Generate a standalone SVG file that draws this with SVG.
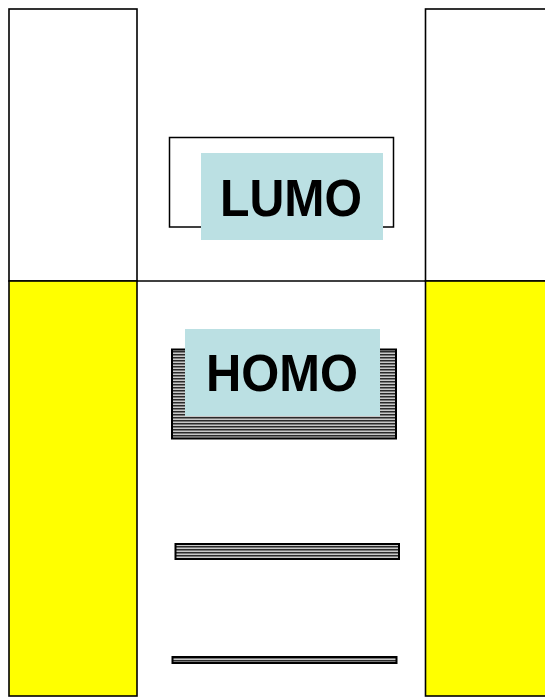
<svg xmlns="http://www.w3.org/2000/svg" width="545" height="697" viewBox="0 0 545 697">
<defs>
<pattern id="hatch" patternUnits="userSpaceOnUse" width="4" height="3">
<rect width="4" height="3" fill="#c8c8c8"/>
<rect width="4" height="1.5" fill="#2a2a2a"/>
</pattern>
</defs>
<style>
.col{fill:#ffffff;stroke:#000;stroke-width:1.6}
.yel{fill:#ffff00;stroke:#000;stroke-width:1.6}
.lbl{fill:#bbe0e3}
.orb{fill:url(#hatch);stroke:#000;stroke-width:2}
.txt{font-family:"Comic Sans MS","Liberation Sans",sans-serif;font-weight:bold;font-size:52px;fill:#000}
</style>
<g id="left-column">
<rect class="col" x="9" y="9" width="128" height="272"/>
<rect class="yel" x="9" y="281" width="128" height="415"/>
</g>
<g id="right-column">
<rect class="col" x="425.5" y="9" width="125" height="272"/>
<rect class="yel" x="425.5" y="281" width="125" height="415"/>
</g>
<g id="connectors">
<line x1="137" y1="281" x2="425.5" y2="281" stroke="#000" stroke-width="1.6"/>
</g>
<g id="lumo">
<rect x="169.5" y="137.5" width="224" height="89.5" fill="#fff" stroke="#000" stroke-width="1.5"/>
<rect class="lbl" x="201" y="153" width="182" height="87"/>
<text class="txt" x="220" y="216" textLength="142" lengthAdjust="spacingAndGlyphs">LUMO</text>
</g>
<g id="homo">
<rect class="orb" x="172" y="349.5" width="224" height="89"/>
<rect class="lbl" x="185" y="329" width="195" height="87"/>
<text class="txt" x="206" y="391" textLength="152" lengthAdjust="spacingAndGlyphs">HOMO</text>
</g>
<g id="orbital-2">
<rect class="orb" x="175.5" y="544" width="223.5" height="15"/>
</g>
<g id="orbital-3">
<rect class="orb" x="172.5" y="657" width="224" height="6" stroke-width="1.5"/>
</g>
</svg>
